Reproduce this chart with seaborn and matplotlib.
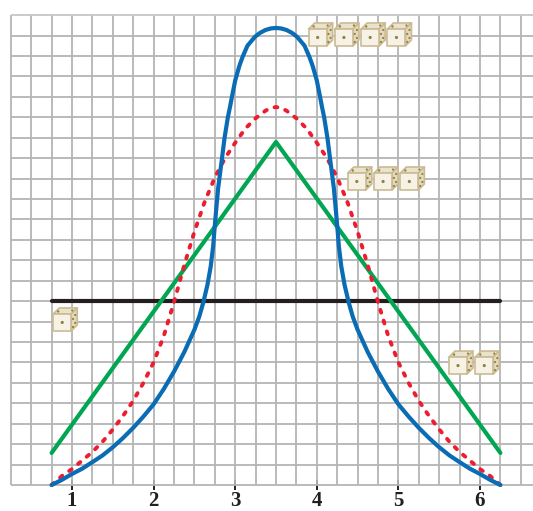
import matplotlib
matplotlib.use('Agg')
import matplotlib.pyplot as plt
import seaborn as sns
from matplotlib.patches import Polygon, Circle
from matplotlib.transforms import Affine2D

# values, x in die faces, y in grid cells
x_ticks = [1, 2, 3, 4, 5, 6]

x_flat = [0.75, 6.25]
y_flat = [9.0, 9.0]

x_tri = [0.75, 3.5, 6.25]
y_tri = [1.57, 16.79, 1.57]

x_red = [0.75, 0.875, 1.0, 1.125, 1.25, 1.375, 1.5, 1.625, 1.75, 1.875, 2.0, 2.125, 2.25, 2.375, 2.5, 2.625, 2.75,
         2.875, 3.0, 3.125, 3.25, 3.375, 3.44, 3.5,
         3.56, 3.625, 3.75, 3.875, 4.0, 4.125, 4.25, 4.375, 4.5, 4.625, 4.75, 4.875, 5.0, 5.125, 5.25, 5.375,
         5.5, 5.625, 5.75, 5.875, 6.0, 6.125, 6.25]
y_red = [0, 0.44, 0.78, 1.2, 1.62, 2.12, 2.72, 3.38, 4.12, 5.0, 6.0, 7.3, 8.95, 10.75, 12.4, 13.85, 15.05,
         16.0, 16.75, 17.45, 17.95, 18.33, 18.46, 18.5,
         18.46, 18.33, 17.95, 17.45, 16.75, 16.0, 15.05, 13.85, 12.4, 10.75, 8.95, 7.3, 6.0, 5.0, 4.12, 3.38,
         2.72, 2.12, 1.62, 1.2, 0.78, 0.44, 0]

x_blue = [0.75, 0.875, 1.0, 1.125, 1.25, 1.375, 1.5, 1.625, 1.75, 1.875, 2.0, 2.125, 2.25, 2.375, 2.5, 2.56,
          2.61, 2.66, 2.70, 2.73, 2.75, 2.77, 2.79, 2.84, 2.87, 2.91, 2.936, 2.97, 3.0, 3.05, 3.09, 3.15, 3.24,
          3.3, 3.37, 3.44, 3.5,
          3.56, 3.63, 3.7, 3.76, 3.85, 3.91, 3.95, 4.0, 4.03, 4.064, 4.09, 4.13, 4.16, 4.21, 4.23, 4.25, 4.27,
          4.30, 4.34, 4.39, 4.44, 4.5, 4.625, 4.75, 4.875, 5.0, 5.125, 5.25, 5.375, 5.5, 5.625, 5.75, 5.875,
          6.0, 6.125, 6.25]
y_blue = [0, 0.25, 0.54, 0.8, 1.12, 1.45, 1.85, 2.3, 2.8, 3.35, 3.95, 4.7, 5.55, 6.5, 7.6, 8.25,
          8.95, 9.8, 10.7, 11.7, 12.7, 13.6, 14.5, 16.05, 17.0, 18.0, 18.5, 19.2, 19.8, 20.5, 20.95, 21.5, 21.93,
          22.12, 22.27, 22.35, 22.37,
          22.35, 22.27, 22.12, 21.93, 21.5, 20.95, 20.5, 19.8, 19.2, 18.5, 18.0, 17.0, 16.05, 14.5, 13.6, 12.7, 11.7,
          10.7, 9.8, 8.95, 8.25, 7.6, 6.5, 5.55, 4.7, 3.95, 3.35, 2.8, 2.3, 1.85, 1.45, 1.12, 0.8,
          0.54, 0.25, 0]

dice_x = [3.90, 4.222, 4.544, 4.866, 4.38, 4.702, 5.024, 5.62, 5.942, 0.77]
dice_y = [21.49, 21.49, 21.49, 21.49, 14.44, 14.44, 14.44, 5.43, 5.43, 7.54]

sns.set_style('white')
plt.rcParams['font.family'] = ['Liberation Serif', 'DejaVu Serif']

W, H = 533, 511
fig = plt.figure(figsize=(W / 100, H / 100), dpi=100)
# bottom of axes is the baseline at pixel row 485
ax = fig.add_axes([0, 26 / H, 1, 485 / H])
ax.set_xlim(1 + (0 - 72) / 81.6, 1 + (533 - 72) / 81.6)
ax.set_ylim(0, 485 / 20.43)

# grid
grey = '#b4b4b4'
for i in range(26):
    ax.plot([0.25 + i * 0.25] * 2, [0, 23], color=grey, lw=1.3, zorder=1, solid_capstyle='butt')
for j in range(24):
    ax.plot([0.25, 6.66], [j, j], color='#c6c6c6' if j == 23 else grey, lw=1.3, zorder=1,
            solid_capstyle='butt', clip_on=False)

lw = 3.0
sns.lineplot(x=x_flat, y=y_flat, ax=ax, color='#231f20', lw=lw, sort=False, errorbar=None, zorder=3)
sns.lineplot(x=x_tri, y=y_tri, ax=ax, color='#00a651', lw=lw, sort=False, errorbar=None, zorder=3)
sns.lineplot(x=x_red, y=y_red, ax=ax, color='#ed1c2e', lw=2.8, sort=False, errorbar=None, zorder=4,
             linestyle=(0, (0.75, 2.15)), dash_capstyle='round', clip_on=False)
sns.lineplot(x=x_blue, y=y_blue, ax=ax, color='#0a6cb4', lw=lw, sort=False, errorbar=None, zorder=5,
             clip_on=False)


def draw_die(x, y):
    # x, y is the lower left corner of the front face, the die is drawn in screen pixels
    px, py = ax.transData.transform((x, y))
    tr = Affine2D().translate(px, py)
    edge = '#cbbb93'
    pip = '#94813f'
    w, h, d = 18, 17, 6
    ax.add_patch(Polygon([(0, h), (w, h), (w + d, h + d), (d, h + d)], closed=True, fc='#e9e2cd', ec=edge,
                         lw=1.2, joinstyle='round', transform=tr, zorder=6))
    ax.add_patch(Polygon([(w, 0), (w + d, 6), (w + d, h + d), (w, h)], closed=True, fc='#e3d9bf', ec=edge,
                         lw=1.2, joinstyle='round', transform=tr, zorder=6))
    ax.add_patch(Polygon([(0, 0), (w, 0), (w, h), (0, h)], closed=True, fc='#f6f2e6', ec=edge,
                         lw=1.2, joinstyle='round', transform=tr, zorder=6))
    for cx, cy, r in [(w / 2, h / 2, 1.6), (5, h + 2.5, 1.2), (w + 1, h + 3.5, 1.1),
                      (w + 1.8, 4, 1.1), (w + 4, 8, 1.1), (w + 1.8, 12, 1.1), (w + 4, 16, 1.1)]:
        ax.add_patch(Circle((cx, cy), r, fc=pip, ec='none', transform=tr, zorder=7))


for dx, dy in zip(dice_x, dice_y):
    draw_die(dx, dy)

for side in ['top', 'right', 'left', 'bottom']:
    ax.spines[side].set_visible(False)
ax.set_yticks([])
ax.set_xticks(x_ticks)
ax.set_xticklabels([str(t) for t in x_ticks], fontsize=15, fontweight='bold', color='#231f20')
ax.tick_params(axis='x', direction='inout', length=7, width=1.4, color='#231f20', pad=0.5, bottom=True, zorder=8)

fig.savefig('out.png', dpi=100)
